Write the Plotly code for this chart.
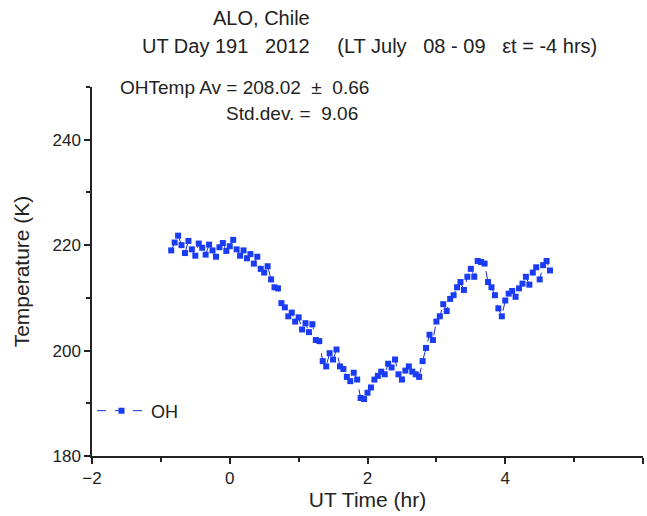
import plotly.graph_objects as go

ut_time = [round(-0.85 + 0.05 * i, 2) for i in range(111)]
oh_temp = [
    219.0, 220.5, 221.8, 220.0, 218.5, 220.8, 219.2, 218.0, 220.3, 219.5,
    218.2, 220.1, 219.0, 217.8, 219.6, 220.4, 218.9, 219.8, 221.0, 219.2,
    218.0, 219.0, 217.5, 218.3, 216.5, 217.8, 215.5, 214.8, 216.0, 213.5,
    212.0, 211.8, 209.0, 208.2, 206.5, 207.2, 205.5, 206.3, 204.0, 205.2,
    203.5, 205.0, 202.0, 201.8, 198.0, 197.0, 199.5, 198.3, 200.2, 197.0,
    196.5, 195.0, 194.2, 195.8, 194.5, 191.0, 190.8, 192.0, 193.0, 194.5,
    195.2, 196.0, 195.5, 197.5, 196.8, 198.3, 195.5, 194.5, 196.2, 197.0,
    196.0, 195.5, 195.0, 198.0, 200.5, 203.0, 202.0, 205.5, 206.5, 208.8,
    207.5, 209.8, 210.5, 212.0, 213.0, 211.5, 214.0, 215.5, 214.0, 217.0,
    216.8, 216.5, 213.0, 212.0, 210.5, 208.0, 206.5, 209.5, 210.8, 211.3,
    210.2, 211.8, 212.7, 214.0, 212.5, 214.8, 215.8, 213.5, 216.2, 217.0,
    215.2,
]

NB = "\u00a0"
title1 = "ALO, Chile"
title2 = ("UT Day 191" + NB * 3 + "2012" + NB * 5 + "(LT July" + NB * 3
          + "08 - 09" + NB * 3 + "εt = -4 hrs)")
note1 = "OHTemp Av = 208.02" + NB * 2 + "±" + NB * 2 + "0.66"
note2 = "Std.dev. =" + NB * 2 + "9.06"

FONT = "Liberation Sans, Arial, sans-serif"

fig = go.Figure()
fig.add_trace(go.Scatter(
    x=ut_time, y=oh_temp, mode="lines+markers", name="OH",
    line=dict(color="#1b2fcc", width=1, dash="dash"),
    marker=dict(symbol="square", size=6, color="#1a3cf5"),
))

fig.update_layout(
    width=647, height=516,
    margin=dict(l=92, r=4, t=87, b=60),
    plot_bgcolor="white", paper_bgcolor="white",
    font=dict(family=FONT, color="#222", size=15),
    showlegend=True,
    legend=dict(x=0.0, y=0.122, xanchor="left", yanchor="middle",
                bgcolor="rgba(0,0,0,0)", font=dict(size=18),
                itemwidth=49),
    xaxis=dict(range=[-2, 6], dtick=2, tick0=-2, showgrid=False, zeroline=False,
               showline=True, linecolor="#222", linewidth=1.5,
               ticks="outside", ticklen=6, tickcolor="#222", tickwidth=1.5,
               tickfont=dict(size=17),
               minor=dict(dtick=1, ticks="outside", ticklen=4, tickcolor="#222"),
               title=dict(text="UT Time (hr)", font=dict(size=21), standoff=2)),
    yaxis=dict(range=[180, 250], tickvals=[180, 200, 220, 240], showgrid=False,
               zeroline=False, showline=True, linecolor="#222", linewidth=1.5,
               ticks="outside", ticklen=6, tickcolor="#222", tickwidth=1.5,
               tickfont=dict(size=17),
               minor=dict(tickvals=[190, 210, 230, 250], ticks="outside", ticklen=4, tickcolor="#222"),
               title=dict(text="Temperature (K)", font=dict(size=21), standoff=17)),
    annotations=[
        dict(text=title1, xref="paper", yref="paper", x=0.3085, y=1.187,
             xanchor="center", yanchor="middle", showarrow=False, font=dict(size=20)),
        dict(text=title2, xref="paper", yref="paper", x=0.5045, y=1.111,
             xanchor="center", yanchor="middle", showarrow=False, font=dict(size=20)),
        dict(text=note1, xref="paper", yref="paper", x=0.047, y=1.0,
             xanchor="left", yanchor="middle", showarrow=False, font=dict(size=19)),
        dict(text=note2, xref="paper", yref="paper", x=0.239, y=0.9295,
             xanchor="left", yanchor="middle", showarrow=False, font=dict(size=19)),
    ],
)

fig.write_html("out.html")
